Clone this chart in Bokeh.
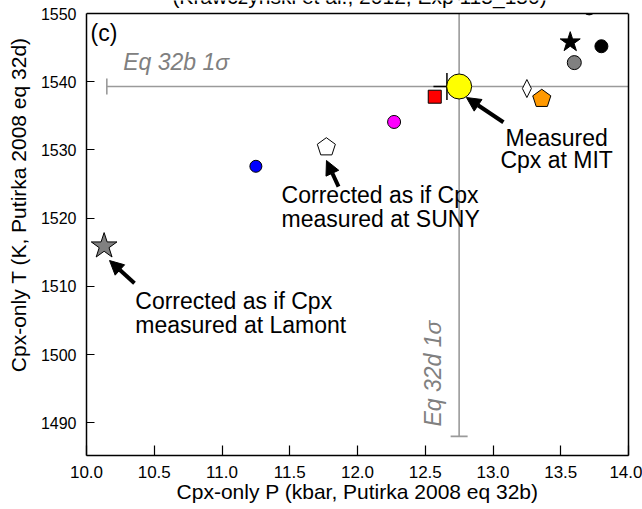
import math
from bokeh.plotting import figure
from bokeh.models import (Range1d, FixedTicker, Label, Arrow, NormalHead, LinearAxis,
                          BoxAnnotation, Span)
from bokeh.embed import file_html
from bokeh.resources import INLINE

# ---------------- data ----------------
# markers: pressure (kbar) and temperature (K)
circ_p = [13.80, 13.60, 12.27, 11.25, 13.71]
circ_t = [1545.2, 1542.8, 1534.1, 1527.6, 1550.75]
circ_fill = ["black", "#808080", "magenta", "blue", "black"]
circ_size = [13, 14, 13, 12, 13]

star_p = [13.57, 10.13]
star_t = [1545.8, 1515.9]
star_fill = ["black", "#808080"]
star_size = [21, 27]

meas_p = [12.75]          # measured Cpx at MIT (yellow)
meas_t = [1539.3]
cross_p = [12.66]
cross_t = [1539.3]

square_p = [12.57]
square_t = [1537.8]

diamond_p = [13.25]
diamond_t = [1539.0]

pent_p = [13.36, 11.77]
pent_t = [1537.5, 1530.4]
pent_fill = ["#FF9900", "white"]

# 1-sigma uncertainties (Putirka 2008 eq 32b / eq 32d), centered on measured point
sigma_p = 2.6
sigma_t = 51.3

# axes
x_lim = [10.0, 14.0]
y_lim = [1485.2, 1550.0]
x_ticks = [10.0, 10.5, 11.0, 11.5, 12.0, 12.5, 13.0, 13.5, 14.0]
x_tick_labels = ["10.0", "10.5", "11.0", "11.5", "12.0", "12.5", "13.0", "13.5", "14.0"]
y_ticks = [1490, 1500, 1510, 1520, 1530, 1540, 1550]

# annotations: arrows (tail -> tip)
arrow_x0 = [13.077, 11.86, 10.354]
arrow_y0 = [1534.06, 1524.63, 1510.45]
arrow_x1 = [12.804, 11.771, 10.17]
arrow_y1 = [1537.68, 1528.45, 1513.78]

FONT = "Liberation Sans"
W, H = 642, 509
B_LEFT, B_RIGHT, B_BOTTOM = 86, 14, 54
FRAME_W = W - B_LEFT - B_RIGHT
FRAME_H = H - B_BOTTOM
TOP_PAD = 13 / 6.82   # room above the axes box for the (cut-off) title line
px_per_p = FRAME_W / (x_lim[1] - x_lim[0])
px_per_t = FRAME_H / (y_lim[1] + TOP_PAD - y_lim[0])

p = figure(width=W, height=H, output_backend="svg", toolbar_location=None,
           title=None,
           x_range=Range1d(x_lim[0], x_lim[1]),
           y_range=Range1d(y_lim[0], y_lim[1] + TOP_PAD),
           min_border_left=B_LEFT, min_border_right=B_RIGHT, min_border_top=0,
           min_border_bottom=B_BOTTOM)
p.xgrid.visible = False
p.ygrid.visible = False
p.background_fill_color = "white"
p.border_fill_color = "white"
p.outline_line_color = None

for ax in (p.xaxis[0], p.yaxis[0]):
    ax.axis_line_color = "black"
    ax.axis_line_width = 1.5
    ax.major_tick_line_color = "black"
    ax.major_tick_line_width = 1.2
    ax.major_tick_out = 0
    ax.minor_tick_line_color = None
    ax.major_label_text_font = FONT
    ax.major_label_text_color = "black"
    ax.axis_label_text_font = FONT
    ax.axis_label_text_font_size = "21px"
    ax.axis_label_text_font_style = "normal"
    ax.axis_label_text_color = "black"

p.xaxis[0].ticker = FixedTicker(ticks=x_ticks)
p.xaxis[0].major_label_overrides = {t: l for t, l in zip(x_ticks, x_tick_labels)}
p.xaxis[0].major_tick_in = 10
p.xaxis[0].major_label_text_font_size = "17px"
p.xaxis[0].major_label_standoff = 10
p.xaxis[0].axis_label = "Cpx-only P (kbar, Putirka 2008 eq 32b)"
p.xaxis[0].axis_label_standoff = -1

p.yaxis[0].ticker = FixedTicker(ticks=y_ticks)
p.yaxis[0].bounds = (y_lim[0], y_lim[1])
p.yaxis[0].major_tick_in = 8
p.yaxis[0].major_label_text_font_size = "16px"
p.yaxis[0].major_label_standoff = 10
p.yaxis[0].axis_label = "\u00a0" * 8 + "Cpx-only T (K, Putirka 2008 eq 32d)"
p.yaxis[0].axis_label_standoff = 8

# right border of the axes box
rax = LinearAxis(ticker=FixedTicker(ticks=[]), bounds=(y_lim[0], y_lim[1]),
                 axis_line_color="black", axis_line_width=1.5,
                 major_tick_in=0, major_tick_out=0, minor_tick_line_color=None,
                 major_label_text_font_size="0px")
p.add_layout(rax, "right")

# ---- 1 sigma error bars ----
ecol = "#9a9a9a"
c_p, c_t = meas_p[0], meas_t[0]
p.segment(x0=[c_p - sigma_p], y0=[c_t], x1=[c_p + sigma_p], y1=[c_t],
          line_color=ecol, line_width=1.6)
p.segment(x0=[c_p], y0=[c_t - sigma_t], x1=[c_p], y1=[c_t + sigma_t],
          line_color=ecol, line_width=1.6)
p.scatter(x=[c_p - sigma_p], y=[c_t], marker="dash", angle=math.pi / 2, size=16,
          line_color=ecol, line_width=1.6)
p.scatter(x=[c_p], y=[c_t - sigma_t], marker="dash", size=17,
          line_color=ecol, line_width=1.6)

# ---- markers ----
p.scatter(x=cross_p, y=cross_t, marker="cross", size=27, line_color="black", line_width=1.5)
p.scatter(x=circ_p, y=circ_t, marker="circle", size=circ_size, fill_color=circ_fill,
          line_color="black", line_width=1)
p.scatter(x=star_p, y=star_t, marker="star", size=star_size, fill_color=star_fill,
          line_color="black", line_width=1)
p.scatter(x=square_p, y=square_t, marker="square", size=13, fill_color="red",
          line_color="black", line_width=1)

# thin diamond (half-width 4.5 px, half-height 9 px)
dia_xs = [[dp, dp + 4.5 / px_per_p, dp, dp - 4.5 / px_per_p] for dp in diamond_p]
dia_ys = [[dt + 9 / px_per_t, dt, dt - 9 / px_per_t, dt] for dt in diamond_t]
p.patches(dia_xs, dia_ys, fill_color="white", line_color="black", line_width=1)

# upright pentagons (circumradius 9.5 px)
R = 9.5
pent_xs = [[pp + R * math.cos(math.radians(90 + 72 * k)) / px_per_p for k in range(5)]
           for pp in pent_p]
pent_ys = [[pt + R * math.sin(math.radians(90 + 72 * k)) / px_per_t for k in range(5)]
           for pt in pent_t]
p.patches(pent_xs, pent_ys, fill_color=pent_fill, line_color="black", line_width=1)

p.scatter(x=meas_p, y=meas_t, marker="circle", size=25, fill_color="yellow",
          line_color="black", line_width=1)

# blank strip above the axes box (marks there are cut off), then the top border
p.add_layout(BoxAnnotation(bottom=y_lim[1], fill_color="white", fill_alpha=1.0,
                           line_color=None))
p.add_layout(Span(location=y_lim[1], dimension="width", line_color="black",
                  line_width=1.5))

# ---- arrows ----
for x0, y0, x1, y1 in zip(arrow_x0, arrow_y0, arrow_x1, arrow_y1):
    p.add_layout(Arrow(end=NormalHead(size=14, fill_color="black", line_color="black",
                                      line_width=1),
                       x_start=x0, y_start=y0, x_end=x1, y_end=y1,
                       line_color="black", line_width=4))


def lab(x, y, text, size="23px", align="left", color="black", angle=0.0,
        style="normal", baseline="alphabetic"):
    p.add_layout(Label(x=x, y=y, text=text, text_font=FONT, text_font_size=size,
                       text_align=align, text_baseline=baseline, text_color=color,
                       angle=angle, text_font_style=style))


lab(13.47, 1531.78, "Measured", align="center")
lab(13.47, 1528.45, "Cpx at MIT", align="center")
lab(11.44, 1523.46, "Corrected as if Cpx")
lab(11.44, 1519.94, "measured at SUNY")
lab(10.36, 1507.92, "Corrected as if Cpx")
lab(10.36, 1504.40, "measured at Lamont")
lab(10.271, 1542.96, "Eq 32b 1σ", color="#808080", style="italic")
lab(12.554, 1489.44, "Eq 32d 1σ", color="#808080", style="italic", angle=math.pi / 2)
lab(10.03, 1547.1, "(c)")
# title line, mostly cut off by the top of the picture
lab(12.015, 1552.5, "(Krawczynski et al., 2012, Exp 115_150)", size="21px", align="center")

open("out.html", "w").write(file_html(p, INLINE))
